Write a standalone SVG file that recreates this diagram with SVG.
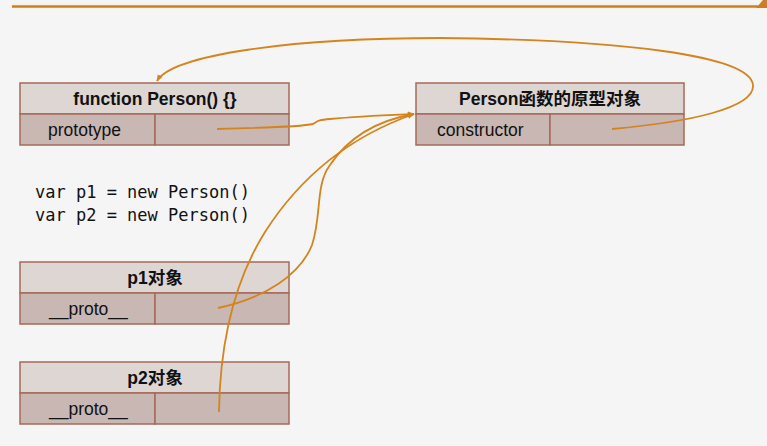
<svg xmlns="http://www.w3.org/2000/svg" width="767" height="446" viewBox="0 0 767 446">
<style>
.hd{fill:#ded6d3;stroke:#a46b5a;stroke-width:1.5}
.rw{fill:#c8b7b2;stroke:#a46b5a;stroke-width:1.5}
.t{font-family:"Liberation Sans","Noto Sans CJK SC",sans-serif;font-size:17.5px;fill:#111}
.b{font-weight:bold;text-anchor:middle}
.code{font-family:"DejaVu Sans Mono",monospace;font-size:17px;fill:#111}
.c{fill:none;stroke:#d4841c;stroke-width:1.8}
</style>
<defs>
<marker id="ah" viewBox="0 0 10 10" refX="9" refY="5" markerWidth="7" markerHeight="7" orient="auto" markerUnits="userSpaceOnUse">
<path d="M0,1 L10,5 L0,9 Z" fill="#d4841c"/>
</marker>
</defs>
<rect width="767" height="446" fill="#f5f5f5"/>
<g id="topbar">
<line x1="12" y1="4" x2="757" y2="4" stroke="#eef3e6" stroke-width="1.5"/>
<line x1="12" y1="6.5" x2="758" y2="6.5" stroke="#d17e1a" stroke-width="2.5"/>
<polygon points="756,8 767,8 767,0 763,0" fill="#d17e1a"/>
</g>
<g id="func">
<rect class="hd" x="20" y="83" width="269" height="31"/>
<rect class="rw" x="20" y="114" width="135" height="31"/>
<rect class="rw" x="155" y="114" width="134" height="31"/>
<text class="t b" x="155" y="105">function Person() {}</text>
<text class="t" x="48" y="136">prototype</text>
</g>
<g id="proto">
<rect class="hd" x="416" y="83" width="268" height="31"/>
<rect class="rw" x="416" y="114" width="134" height="31"/>
<rect class="rw" x="550" y="114" width="134" height="31"/>
<text class="t b" x="550" y="105">Person函数的原型对象</text>
<text class="t" x="437" y="136">constructor</text>
</g>
<g id="code">
<text class="code" x="35" y="198">var p1 = new Person()</text>
<text class="code" x="35" y="221">var p2 = new Person()</text>
</g>
<g id="p1">
<rect class="hd" x="20" y="262" width="269" height="31"/>
<rect class="rw" x="20" y="293" width="135" height="31"/>
<rect class="rw" x="155" y="293" width="134" height="31"/>
<text class="t b" x="155" y="284">p1对象</text>
<text class="t" x="49" y="315">__proto__</text>
</g>
<g id="p2">
<rect class="hd" x="20" y="362" width="269" height="31"/>
<rect class="rw" x="20" y="393" width="135" height="31"/>
<rect class="rw" x="155" y="393" width="134" height="31"/>
<text class="t b" x="155" y="384">p2对象</text>
<text class="t" x="49" y="415">__proto__</text>
</g>
<g id="connectors">
<path class="c" d="M612,129 C690,122 755,108 753,85 C750,55 620,40 440,38 C290,38 172,55 157,81" marker-end="url(#ah)"/>
<path class="c" d="M217,129 C260,128 300,127 313,124 C318,121 318,120 330,119 C360,116 390,115 414,114" marker-end="url(#ah)"/>
<path class="c" d="M218,308 C265,298 300,275 312,245 C322,215 315,185 330,165 C350,135 380,120 414,114" marker-end="url(#ah)"/>
<path class="c" d="M219,412 C220,340 235,280 265,232 C295,185 340,140 414,114" marker-end="url(#ah)"/>
</g>
</svg>
